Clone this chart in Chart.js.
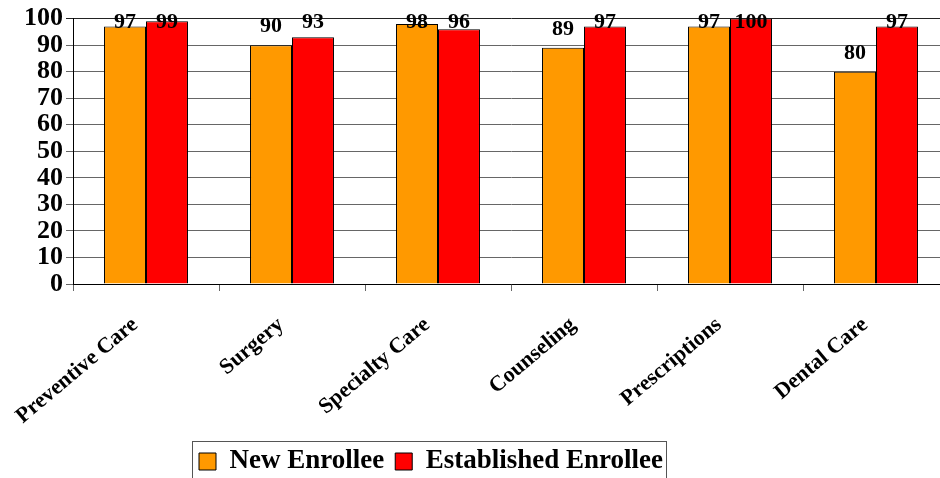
<!DOCTYPE html>
<html>
<head>
<meta charset="utf-8">
<script src="https://cdn.jsdelivr.net/npm/chart.js@4/dist/chart.umd.min.js"></script>
<style>
    html, body { margin: 0; padding: 0; background: #fff; overflow: hidden; }
    #wrap { width: 950px; height: 478px; }
</style>
</head>
<body>
<div id="wrap"><canvas id="access-chart"></canvas></div>
<script>
// categories and values
const categories = ['Preventive Care', 'Surgery', 'Specialty Care', 'Counseling', 'Prescriptions', 'Dental Care'];
const newEnrollee = [97, 90, 98, 89, 97, 80];
const establishedEnrollee = [99, 93, 96, 97, 100, 97];
const seriesNames = ['New Enrollee', 'Established Enrollee'];
const yTicks = { min: 0, max: 100, step: 10 };

const serif = "'Liberation Serif', 'Times New Roman', serif";

// value labels above each bar, kept inside the plot area at the top
const valueLabels = {
    id: 'valueLabels',
    afterDatasetsDraw(chart) {
        const ctx = chart.ctx;
        ctx.save();
        ctx.font = 'bold 22px ' + serif;
        ctx.fillStyle = '#000';
        ctx.textAlign = 'center';
        ctx.textBaseline = 'alphabetic';
        chart.data.datasets.forEach((ds, i) => {
            chart.getDatasetMeta(i).data.forEach((bar, j) => {
                const y = Math.max(bar.y - 13, chart.chartArea.top + 9);
                ctx.fillText(String(ds.data[j]), bar.x, y);
            });
        });
        ctx.restore();
    }
};

// move the legend to where it sits in the original and frame it
const legendFrame = {
    id: 'legendFrame',
    beforeDraw(chart) {
        const lg = chart.legend;
        const pad = lg.options.labels.padding;
        lg.left = 199 - pad;
        lg.right = lg.left + lg.lineWidths[0] + pad;
        lg.top = 448 - pad;
    },
    afterDraw(chart) {
        const lg = chart.legend;
        const pad = lg.options.labels.padding;
        const start = lg.left + pad;
        const end = start + lg.lineWidths[0] - pad;
        const ctx = chart.ctx;
        ctx.save();
        ctx.strokeStyle = '#555';
        ctx.lineWidth = 1;
        ctx.strokeRect(Math.round(start - 7) + 0.5, 441.5, Math.round(end - start + 10), 60);
        ctx.restore();
    }
};

new Chart(document.getElementById('access-chart').getContext('2d'), {
    type: 'bar',
    data: {
        labels: categories,
        datasets: [{
            label: seriesNames[0],
            data: newEnrollee,
            backgroundColor: '#FF9900',
            borderColor: '#000',
            borderWidth: 1,
            categoryPercentage: 0.575,
            barPercentage: 1.0
        }, {
            label: seriesNames[1],
            data: establishedEnrollee,
            backgroundColor: '#FF0000',
            borderColor: '#000',
            borderWidth: 1,
            categoryPercentage: 0.575,
            barPercentage: 1.0
        }]
    },
    options: {
        responsive: true,
        maintainAspectRatio: false,
        animation: false,
        devicePixelRatio: 1,
        layout: { padding: { top: 17, right: 1, left: 0, bottom: 0 } },
        plugins: {
            legend: {
                position: 'bottom',
                labels: {
                    font: { family: serif, size: 27, weight: 'bold' },
                    color: '#000',
                    boxWidth: 17,
                    boxHeight: 17,
                    padding: 11
                }
            },
            tooltip: { enabled: false }
        },
        scales: {
            x: {
                afterFit(scale) {
                    scale.height = 146;
                    scale.paddingLeft = 0;
                    scale.paddingRight = 0;
                },
                grid: {
                    display: true,
                    drawOnChartArea: false,
                    drawTicks: true,
                    tickLength: 7,
                    color: '#666'
                },
                border: { display: true, color: '#000', width: 1 },
                ticks: {
                    autoSkip: false,
                    minRotation: 40,
                    maxRotation: 40,
                    padding: 21,
                    labelOffset: -11,
                    color: '#000',
                    font: { family: serif, size: 22, weight: 'bold' }
                }
            },
            y: {
                min: yTicks.min,
                max: yTicks.max,
                afterFit(scale) { scale.width = 73; },
                grid: {
                    color: ctx => ctx.tick && ctx.tick.value === yTicks.max ? '#222' : '#666',
                    tickLength: 7,
                    drawTicks: true
                },
                border: { display: true, color: '#000', width: 1 },
                ticks: {
                    stepSize: yTicks.step,
                    autoSkip: false,
                    padding: 3,
                    color: '#000',
                    font: { family: serif, size: 26, weight: 'bold' }
                }
            }
        }
    },
    plugins: [valueLabels, legendFrame]
});
</script>
</body>
</html>
